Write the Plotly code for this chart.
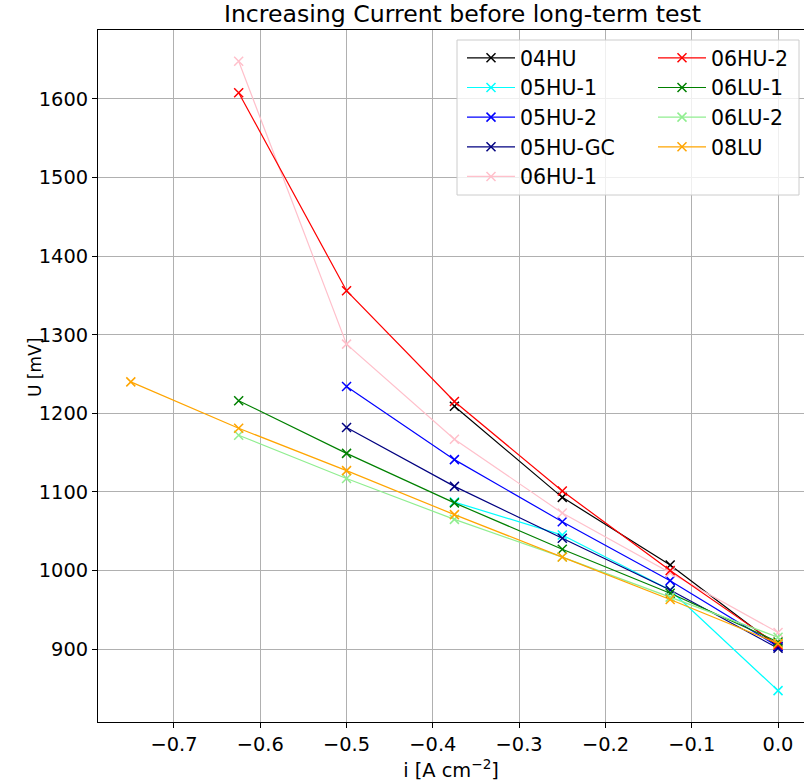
import plotly.graph_objects as go

currents = [0.0, -0.125, -0.25, -0.375, -0.5, -0.625, -0.75]

names = ["04HU", "05HU-1", "05HU-2", "05HU-GC", "06HU-1",
         "06HU-2", "06LU-1", "06LU-2", "08LU"]
colors = ["black", "cyan", "blue", "navy", "pink",
          "red", "green", "lightgreen", "orange"]

u_04HU = [903, 1007, 1093, 1209]
u_05HU_1 = [847, 975, 1045, 1087]
u_05HU_2 = [903, 987, 1062, 1141, 1234]
u_05HU_GC = [901, 975, 1041, 1107, 1182]
u_06HU_1 = [921, 997, 1073, 1167, 1288, 1648]
u_06HU_2 = [905, 1000, 1101, 1215, 1356, 1608]
u_06LU_1 = [909, 971, 1027, 1086, 1149, 1216]
u_06LU_2 = [915, 966, 1017, 1065, 1117, 1172]
u_08LU = [907, 963, 1017, 1071, 1127, 1181, 1240]

series = [u_04HU, u_05HU_1, u_05HU_2, u_05HU_GC, u_06HU_1,
          u_06HU_2, u_06LU_1, u_06LU_2, u_08LU]

FONT = "DejaVu Sans"
FS = 19.4

fig = go.Figure()
for i, (nm, col, vals) in enumerate(zip(names, colors, series)):
    fig.add_trace(go.Scatter(
        x=currents[:len(vals)], y=vals, name=nm, mode="lines+markers",
        line=dict(color=col, width=1.2),
        marker=dict(symbol="x-thin", size=9, line=dict(color=col, width=1.5)),
        legend="legend" if i < 5 else "legend2",
        legendgroup=nm,
    ))

W, H = 804, 782
L, R, T, B = 98, 0, 30, 60
pw = W - L - R
ph = H - T - B

def px_x(x):
    return (x - L) / pw

def px_y(y):
    return (H - B - y) / ph

legend_common = dict(
    font=dict(family=FONT, size=20.5, color="black"),
    bgcolor="rgba(0,0,0,0)", borderwidth=0,
    xanchor="left", yanchor="top", tracegroupgap=0,
    traceorder="grouped", itemwidth=48,
)

fig.update_layout(
    width=W, height=H,
    margin=dict(l=L, r=R, t=T, b=B),
    plot_bgcolor="white", paper_bgcolor="white",
    font=dict(family=FONT, size=FS, color="black"),
    title=dict(text="Increasing Current before long-term test",
               xref="container", x=462.5 / W, xanchor="center",
               yref="container", y=1 - 14 / H, yanchor="middle",
               font=dict(family=FONT, size=23.6)),
    xaxis=dict(range=[-0.788, -0.788 + pw / 863.0],
               tickvals=[-0.7, -0.6, -0.5, -0.4, -0.3, -0.2, -0.1, 0.0],
               tickformat=".1f",
               showgrid=True, gridcolor="#b0b0b0", gridwidth=1,
               zeroline=False, showline=True, linecolor="black", linewidth=1,
               mirror=True, ticks="outside", ticklen=5, tickcolor="black",
               title=dict(text="i [A cm<sup>−2</sup>]", standoff=6,
                          font=dict(family=FONT, size=FS))),
    yaxis=dict(range=[807.1, 1687.8],
               tickvals=[900, 1000, 1100, 1200, 1300, 1400, 1500, 1600],
               showgrid=True, gridcolor="#b0b0b0", gridwidth=1,
               zeroline=False, showline=True, linecolor="black", linewidth=1,
               mirror=True, ticks="outside", ticklen=5, tickcolor="black"),
    annotations=[dict(text="U [mV]", xref="paper", yref="paper",
                      x=px_x(35), y=px_y(368), textangle=-90,
                      showarrow=False, xanchor="center", yanchor="middle",
                      font=dict(family=FONT, size=17))],
    legend=dict(x=px_x(462), y=px_y(38), **legend_common),
    legend2=dict(x=px_x(653), y=px_y(38), **legend_common),
    showlegend=True,
    shapes=[dict(type="rect", xref="paper", yref="paper",
                 x0=px_x(457), x1=px_x(799), y0=px_y(195), y1=px_y(40),
                 line=dict(color="#cccccc", width=1),
                 fillcolor="rgba(255,255,255,0.8)", layer="above")],
)

fig.write_html("out.html")
